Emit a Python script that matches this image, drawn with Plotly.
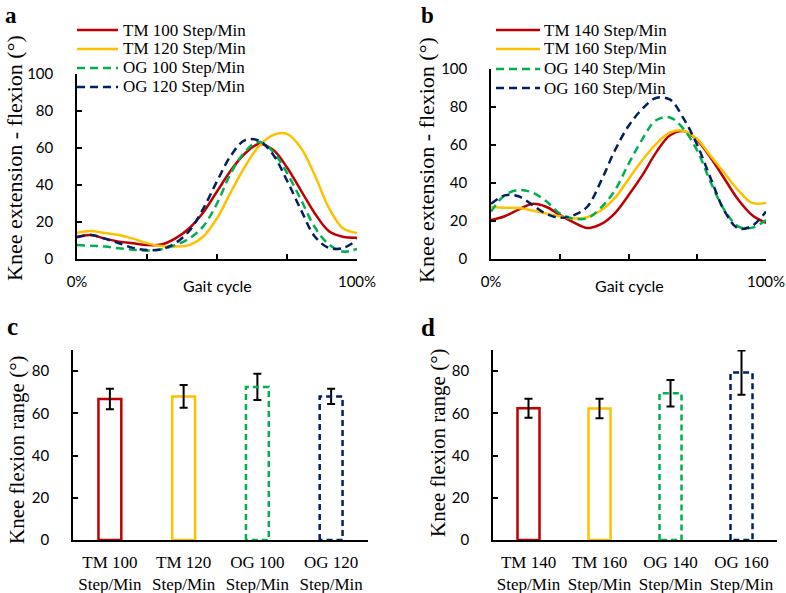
import plotly.graph_objects as go

W, H = 786, 593

# ---------------- data ----------------
gait = [0, 5, 10, 15, 20, 25, 30, 35, 40, 45, 50, 55, 60, 65, 70, 75, 80, 85, 90, 95, 100]

# panel a
names_a = ["TM 100 Step/Min", "TM 120 Step/Min", "OG 100 Step/Min", "OG 120 Step/Min"]
tm100 = [12, 13, 11, 9.4, 8.5, 7.6, 7.8, 11, 16.5, 25, 36.5, 48, 57, 62.2, 59, 49.5, 37, 24.5, 15, 12, 11.5]
tm120 = [14.2, 15.1, 14, 13, 11, 8.6, 7, 6.7, 7.5, 12, 22, 36.3, 50, 61, 67, 67.6, 60, 45, 27.5, 16.6, 14]
og100 = [7.5, 7.2, 6.7, 5.8, 5, 4.6, 5.2, 7.5, 11, 17.5, 30, 46.5, 58, 63.4, 58, 46.5, 32, 17, 7.8, 4, 5.5]
og120 = [11.7, 13, 11, 8.5, 6, 4.8, 5.2, 8.5, 15, 27, 42, 56, 64.3, 64, 56.5, 42.4, 26.5, 12, 6, 5.9, 10.3]

# panel b
names_b = ["TM 140 Step/Min", "TM 160 Step/Min", "OG 140 Step/Min", "OG 160 Step/Min"]
tm140 = [20.5, 22.5, 26, 29, 27.5, 23.2, 19.3, 16.3, 18.3, 24, 33.5, 44, 56, 65, 67.3, 62.5, 53, 42, 31, 23, 19]
tm160 = [27.4, 27, 26.8, 25.5, 24, 22.5, 21.3, 22, 25.5, 32, 42, 52, 60.5, 66.5, 67.5, 63, 54, 45, 36, 29.5, 29.5]
og140 = [25, 33.6, 36.3, 35, 30.5, 24, 21.3, 21.5, 27, 36, 50, 63, 73, 74.5, 68.5, 57, 40, 25.5, 17, 16.5, 20.5]
og160 = [29, 33.5, 33, 28.5, 23.8, 21.7, 23, 27.5, 41, 57, 70, 79, 84.7, 84, 74, 60, 42, 25, 16, 17.5, 25]

# panels c, d
c_labels = ["TM 100<br>Step/Min", "TM 120<br>Step/Min", "OG 100<br>Step/Min", "OG 120<br>Step/Min"]
c_vals = [66.8, 68, 72.5, 68]
c_err = [4.9, 5.4, 6.2, 3.6]
d_labels = ["TM 140<br>Step/Min", "TM 160<br>Step/Min", "OG 140<br>Step/Min", "OG 160<br>Step/Min"]
d_vals = [62.4, 62.3, 69.5, 79.3]
d_err = [4.5, 4.6, 6.3, 10.5]

# ---------------- style ----------------
RED, YEL, GRN, BLU = "#C00000", "#FFC000", "#00B050", "#002060"
COLORS = [RED, YEL, GRN, BLU]
SERIF = "Liberation Serif"
SANS = "Lato"
LW = 2.5
CURVE_DASH = "8px,5px"
BAR_DASH = "6px,4px"
BAR_W = 0.31

fig = go.Figure()


def px_x(p):
    return p / W


def px_y(p):
    return 1 - p / H


def add_curves(ys, names, xa, ya):
    for y, name, col in zip(ys, names, COLORS):
        dash = "solid" if name.startswith("TM") else CURVE_DASH
        fig.add_trace(go.Scatter(
            x=gait, y=y, mode="lines", name=name, showlegend=False,
            line=dict(color=col, width=LW, dash=dash, shape="spline", smoothing=1.0),
            xaxis=xa, yaxis=ya))


add_curves([tm100, tm120, og100, og120], names_a, "x", "y")
add_curves([tm140, tm160, og140, og160], names_b, "x2", "y2")


def add_bars(vals, errs, labels, xa, ya):
    idx = list(range(len(vals)))
    fig.add_trace(go.Bar(
        x=idx, y=vals, width=BAR_W, showlegend=False,
        hovertext=[l.replace("<br>", " ") for l in labels],
        marker=dict(color="rgba(255,255,255,0)",
                    line=dict(color=[RED, YEL, "rgba(0,0,0,0)", "rgba(0,0,0,0)"],
                              width=[LW, LW, 0, 0])),
        error_y=dict(type="data", array=errs, color="black", thickness=2, width=4),
        xaxis=xa, yaxis=ya))
    # dashed outlines for the overground bars (derived from the same values)
    for i in (2, 3):
        h = BAR_W / 2
        fig.add_trace(go.Scatter(
            x=[i - h, i - h, i + h, i + h, i - h],
            y=[0, vals[i], vals[i], 0, 0],
            mode="lines", showlegend=False, hoverinfo="skip",
            line=dict(color=COLORS[i], width=LW, dash=BAR_DASH),
            xaxis=xa, yaxis=ya))


add_bars(c_vals, c_err, c_labels, "x3", "y3")
add_bars(d_vals, d_err, d_labels, "x4", "y4")

axis_common = dict(showline=True, linecolor="black", linewidth=1.5, showgrid=False,
                   zeroline=False, ticks="inside", ticklen=5, tickcolor="black",
                   tickwidth=1.5, automargin=False)

xa_line = dict(axis_common, range=[0, 100], tickvals=[0, 25, 50, 75, 100],
               ticktext=["0%", "", "", "", "100%"], tickangle=0,
               tickfont=dict(family=SANS, size=15, color="black"), ticklabelstandoff=8)
ya_line = dict(axis_common, range=[0, 100], tickvals=[0, 20, 40, 60, 80, 100],
               tickfont=dict(family=SANS, size=15, color="black"), ticklabelstandoff=19)
xa_bar = dict(showline=True, linecolor="black", linewidth=1.5, showgrid=False,
              zeroline=False, ticks="", range=[-0.5, 3.5], tickvals=[0, 1, 2, 3],
              tickangle=0, automargin=False,
              tickfont=dict(family=SERIF, size=17, color="black"), ticklabelstandoff=6)
ya_bar = dict(axis_common, range=[0, 90], tickvals=[0, 20, 40, 60, 80],
              tickfont=dict(family=SANS, size=15, color="black"), ticklabelstandoff=19)

fig.update_layout(
    width=W, height=H, margin=dict(l=0, r=0, t=0, b=0, autoexpand=False),
    paper_bgcolor="white", plot_bgcolor="white",
    showlegend=False, barmode="overlay",
    xaxis=dict(xa_line, domain=[px_x(77), px_x(357)], anchor="y"),
    yaxis=dict(ya_line, domain=[px_y(259), px_y(74)], anchor="x"),
    xaxis2=dict(xa_line, domain=[px_x(491), px_x(766)], anchor="y2"),
    yaxis2=dict(ya_line, domain=[px_y(259), px_y(69)], anchor="x2"),
    xaxis3=dict(xa_bar, domain=[px_x(73), px_x(368)], anchor="y3", ticktext=c_labels),
    yaxis3=dict(ya_bar, domain=[px_y(540), px_y(350)], anchor="x3"),
    xaxis4=dict(xa_bar, domain=[px_x(493), px_x(777)], anchor="y4", ticktext=d_labels),
    yaxis4=dict(ya_bar, domain=[px_y(540), px_y(350)], anchor="x4"),
)


def ann(text, x, y, size, family=SERIF, angle=0, bold=False, xanchor="center"):
    fig.add_annotation(text=f"<b>{text}</b>" if bold else text,
                       x=px_x(x), y=px_y(y), xref="paper", yref="paper",
                       xanchor=xanchor, yanchor="middle", showarrow=False,
                       textangle=angle, font=dict(family=family, size=size, color="black"))


# legends (line samples + labels) for panels a and b
def legend_block(names, x0, x1, xt, rows):
    for name, col, yr in zip(names, COLORS, rows):
        dash = "solid" if name.startswith("TM") else CURVE_DASH
        fig.add_shape(type="line", xref="paper", yref="paper",
                      x0=px_x(x0), x1=px_x(x1), y0=px_y(yr), y1=px_y(yr),
                      line=dict(color=col, width=LW, dash=dash))
        ann(name, xt, yr, 17, xanchor="left")


legend_block(names_a, 77, 118, 121, [30, 49, 68, 87])
legend_block(names_b, 496, 540, 542, [30, 49, 69, 88])

ann("a", 11, 15, 23, bold=True)
ann("b", 427, 15, 23, bold=True)
ann("c", 12.5, 326, 25, bold=True)
ann("d", 428, 327, 25, bold=True)

ann("Knee extension - flexion (°)", 14, 158, 22, angle=-90)
ann("Knee extension - flexion (°)", 427, 160, 22, angle=-90)
ann("Knee flexion range (°)", 17, 450, 21, angle=-90)
ann("Knee flexion range (°)", 438, 443, 21, angle=-90)

ann("Gait cycle", 217.5, 285, 16, family=SANS)
ann("Gait cycle", 629, 285, 16, family=SANS)

fig.write_html(
    "out.html",
    config={"displayModeBar": False},
    post_script="document.body.style.margin='0';document.body.style.overflow='hidden';",
)
